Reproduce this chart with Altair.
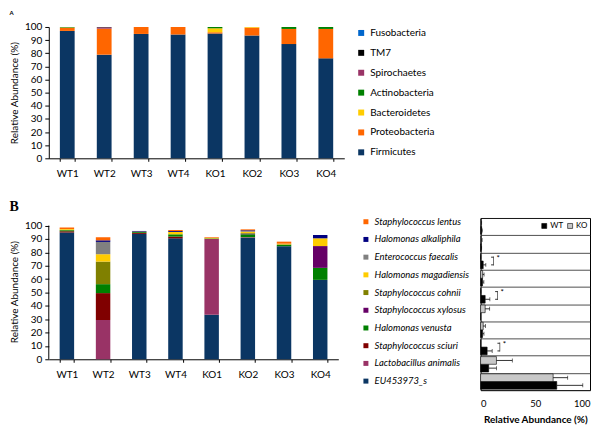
import altair as alt
import pandas as pd

FONT = "Lato"

samples = ["WT1", "WT2", "WT3", "WT4", "KO1", "KO2", "KO3", "KO4"]

# ---------- Panel A: phylum level (bottom -> top stacking order)
phyla = ["Firmicutes", "Proteobacteria", "Bacteroidetes", "Actinobacteria",
         "Spirochaetes", "TM7", "Fusobacteria"]
phylum_colors = ["#0B3663", "#FF6600", "#FFCC00", "#008000", "#993366", "#000000", "#0066CC"]
firmicutes     = [97.0, 78.9, 94.7, 94.2, 95.0, 93.5, 87.0, 76.1]
proteobacteria = [2.4, 19.8, 5.3, 5.8, 1.0, 6.0, 11.5, 22.4]
bacteroidetes  = [0.2, 0.0, 0.0, 0.0, 3.0, 0.5, 0.0, 0.0]
actinobacteria = [0.4, 0.0, 0.0, 0.0, 1.0, 0.0, 1.5, 1.5]
spirochaetes   = [0.0, 1.0, 0.0, 0.0, 0.0, 0.0, 0.0, 0.0]
tm7            = [0.0, 0.3, 0.0, 0.0, 0.0, 0.0, 0.0, 0.0]
fusobacteria   = [0.0, 0.0, 0.0, 0.0, 0.0, 0.0, 0.0, 0.0]
phylum_values = [firmicutes, proteobacteria, bacteroidetes, actinobacteria,
                 spirochaetes, tm7, fusobacteria]

# ---------- Panel B: species level (bottom -> top stacking order)
species = ["EU453973_s", "Lactobacillus animalis", "Staphylococcus sciuri",
           "Halomonas venusta", "Staphylococcus xylosus", "Staphylococcus cohnii",
           "Halomonas magadiensis", "Enterococcus faecalis", "Halomonas alkaliphila",
           "Staphylococcus lentus"]
species_colors = ["#0B3663", "#993366", "#800000", "#008000", "#660066",
                  "#808000", "#FFCC00", "#808080", "#000080", "#FF6600"]
eu453973    = [94.8, 0.0, 93.8, 90.5, 33.3, 90.8, 84.6, 59.4]
l_animalis  = [0.0, 29.4, 0.0, 0.0, 56.7, 0.5, 0.0, 0.0]
s_sciuri    = [1.0, 20.1, 0.8, 1.3, 0.0, 0.0, 0.0, 0.0]
h_venusta   = [0.7, 6.7, 0.6, 1.7, 0.4, 2.2, 1.0, 9.0]
s_xylosus   = [0.0, 0.0, 0.0, 0.0, 0.0, 0.5, 0.0, 16.3]
s_cohnii    = [0.5, 16.9, 0.0, 0.0, 0.0, 0.5, 0.4, 0.0]
h_magad     = [0.5, 5.5, 0.3, 1.8, 0.4, 1.0, 0.5, 5.8]
e_faecalis  = [0.0, 9.2, 0.0, 0.0, 0.0, 0.3, 0.0, 0.0]
h_alkal     = [0.0, 1.2, 0.5, 0.7, 0.0, 0.7, 0.0, 2.5]
s_lentus    = [1.0, 2.3, 0.0, 0.7, 0.5, 0.7, 1.5, 0.0]
species_values = [eu453973, l_animalis, s_sciuri, h_venusta, s_xylosus, s_cohnii,
                  h_magad, e_faecalis, h_alkal, s_lentus]

# ---------- Right panel: mean +/- error per species (species order as above)
wt_mean = [69.6, 7.4, 6.0, 1.8, 0.0, 4.2, 1.8, 2.4, 0.6, 1.0]
wt_err  = [23.8, 7.1, 4.6, 1.3, 0.0, 4.3, 1.2, 2.4, 0.4, 0.5]
ko_mean = [66.3, 14.5, 0.0, 2.4, 4.2, 0.2, 1.9, 0.1, 0.8, 0.7]
ko_err  = [13.3, 14.5, 0.0, 2.0, 4.1, 0.1, 1.3, 0.1, 0.6, 0.3]
significant = ["Enterococcus faecalis", "Staphylococcus cohnii", "Staphylococcus sciuri"]
groups = ["WT", "KO"]
group_colors = ["#000000", "#C8C8C8"]

# ---------- data frames
dfA = pd.DataFrame([
    {"sample": s, "phylum": p, "ord": i, "value": v}
    for i, (p, vals) in enumerate(zip(phyla, phylum_values))
    for s, v in zip(samples, vals)
])
dfB = pd.DataFrame([
    {"sample": s, "species": p, "ord": i, "value": v}
    for i, (p, vals) in enumerate(zip(species, species_values))
    for s, v in zip(samples, vals)
])
rows = []
for i, sp in enumerate(species):
    rows.append({"sp": sp, "group": "WT", "mean": wt_mean[i], "err": wt_err[i],
                 "hi": wt_mean[i] + wt_err[i]})
    rows.append({"sp": sp, "group": "KO", "mean": ko_mean[i], "err": ko_err[i],
                 "hi": ko_mean[i] + ko_err[i]})
dfR = pd.DataFrame(rows)
sig_rows = []
for sp in significant:
    bx = max(dfR[(dfR.sp == sp)]["hi"]) + 7
    for g in groups:
        sig_rows.append({"sp": sp, "group": g, "bx": bx, "bx0": bx - 2.2})
dfSig = pd.DataFrame(sig_rows)

yvals = list(range(0, 101, 10))

# ---------- Panel A
A = alt.Chart(dfA, title=alt.TitleParams("A", anchor="start", frame="bounds",
                                         fontSize=6, font=FONT, offset=6)).mark_bar().encode(
    x=alt.X("sample:N", sort=samples,
            scale=alt.Scale(paddingInner=0.6, paddingOuter=0.3),
            axis=alt.Axis(title=None, labelAngle=0, tickBand="extent", tickSize=3,
                          labelPadding=7, labelFontSize=10)),
    y=alt.Y("value:Q", stack="zero", scale=alt.Scale(domain=[0, 100]),
            axis=alt.Axis(values=yvals, title="Relative Abundance (%)", grid=False,
                          tickSize=4, labelPadding=3, titlePadding=5, labelOverlap=False,
                          labelFontSize=10, titleFontSize=10, titleFontWeight="normal")),
    color=alt.Color("phylum:N",
                    scale=alt.Scale(domain=phyla[::-1], range=phylum_colors[::-1]),
                    legend=alt.Legend(title=None, orient="none", legendX=309, legendY=1,
                                      symbolType="square", symbolSize=36,
                                      symbolStrokeWidth=0, labelFontSize=10,
                                      labelFont=FONT, rowPadding=10, padding=0,
                                      labelOffset=4)),
    order=alt.Order("ord:Q", sort="ascending"),
).properties(width=297, height=132)

# ---------- Panel B
B_yaxis = alt.Axis(values=yvals, title="Relative Abundance (%)", grid=False,
                   domain=False, tickSize=4, labelPadding=3, titlePadding=5,
                   labelOverlap=False, labelFontSize=10, titleFontSize=10,
                   titleFontWeight="normal", titleY=74)
B_yscale = alt.Scale(domain=[0, 105.7], nice=False)
B_bars = alt.Chart(dfB).mark_bar().encode(
    x=alt.X("sample:N", sort=samples,
            scale=alt.Scale(paddingInner=0.6, paddingOuter=0.3),
            axis=alt.Axis(title=None, labelAngle=0, tickBand="extent", tickSize=3,
                          labelPadding=7, labelFontSize=10)),
    y=alt.Y("value:Q", stack="zero", scale=B_yscale, axis=B_yaxis),
    color=alt.Color("species:N",
                    scale=alt.Scale(domain=species[::-1], range=species_colors[::-1]),
                    legend=alt.Legend(title=None, orient="none", legendX=314, legendY=-1,
                                      symbolType="square", symbolSize=25,
                                      symbolStrokeWidth=0, labelFontSize=9.5,
                                      labelFont=FONT, labelFontStyle="italic",
                                      rowPadding=6.8, padding=0, labelOffset=4,
                                      labelLimit=100)),
    order=alt.Order("ord:Q", sort="ascending"),
)
B_axis = alt.Chart(pd.DataFrame({"lo": [0], "hi": [100]})).mark_rule(
    color="black", strokeWidth=1).encode(
    x=alt.value(0), y=alt.Y("lo:Q", scale=B_yscale, axis=B_yaxis), y2="hi:Q")
B = alt.layer(B_bars, B_axis, title=alt.TitleParams(
    "B", anchor="start", frame="bounds", font="Liberation Serif", fontSize=14,
    fontWeight="bold", offset=3)).properties(width=291, height=142)

# ---------- Right panel
ysort = species[::-1]
ysc = alt.Y("sp:N", sort=ysort, scale=alt.Scale(paddingInner=0, paddingOuter=0),
            axis=alt.Axis(labels=False, ticks=False, domain=False, title=None, grid=True,
                          tickBand="extent", gridColor="#222222", gridWidth=0.8))
yoff = alt.YOffset("group:N", sort=["KO", "WT"],
                   scale=alt.Scale(paddingInner=0, paddingOuter=0.12))
xsc = alt.X("mean:Q", scale=alt.Scale(domain=[0, 100]),
            axis=alt.Axis(values=[0, 50, 100], grid=False, ticks=False, domain=False,
                          labelOverlap=False,
                          title="Relative Abundance (%)", titleFontWeight="bold",
                          titleFontSize=10, labelFontSize=9.5, labelPadding=8,
                          titlePadding=7))
R_bars = alt.Chart(dfR).mark_bar(stroke="black", strokeWidth=0.6).encode(
    y=ysc, yOffset=yoff, x=xsc,
    fill=alt.Fill("group:N", scale=alt.Scale(domain=groups, range=group_colors),
                  legend=alt.Legend(title=None, orient="none", legendX=60, legendY=4,
                                    direction="horizontal", symbolType="square",
                                    symbolSize=25, symbolStrokeColor="black",
                                    symbolStrokeWidth=0.6, labelFontSize=8,
                                    labelFont=FONT, padding=0, labelOffset=2,
                                    columnPadding=2)),
)
YO = alt.YOffset("group:N", sort=["KO", "WT"])
R_err = alt.Chart(dfR).transform_filter("datum.err > 0").mark_rule(
    color="black", strokeWidth=0.8).encode(
    y=alt.Y("sp:N", sort=ysort), yOffset=YO, x="mean:Q", x2="hi:Q")
R_cap = alt.Chart(dfR).transform_filter("datum.err > 0").mark_tick(
    color="black", thickness=0.8, size=4).encode(
    y=alt.Y("sp:N", sort=ysort), yOffset=YO, x="hi:Q")
# significance brackets: vertical stroke + two short arms, and an asterisk
R_br_v = alt.Chart(dfSig).transform_filter("datum.group == 'WT'").mark_tick(
    color="black", thickness=0.8, size=9).encode(
    y=alt.Y("sp:N", sort=ysort), x="bx:Q")
R_br_h = alt.Chart(dfSig).mark_rule(color="black", strokeWidth=0.8).encode(
    y=alt.Y("sp:N", sort=ysort), yOffset=YO, x="bx0:Q", x2="bx:Q")
R_star = alt.Chart(dfSig).transform_filter("datum.group == 'WT'").mark_text(
    text="*", fontSize=8, font=FONT, align="left", baseline="middle", dx=3, dy=-2,
    color="black").encode(y=alt.Y("sp:N", sort=ysort), x="bx:Q")
R = alt.layer(R_bars, R_err, R_cap, R_br_v, R_br_h, R_star).properties(
    width=110, height=173, view=alt.ViewBackground(stroke="black", strokeWidth=1))

bottom = alt.hconcat(B, R, spacing=10).resolve_scale(
    x="independent", y="independent", color="independent", fill="independent")

chart = alt.vconcat(A, bottom, spacing=22).resolve_scale(
    x="independent", y="independent", color="independent").properties(
    padding={"left": 1, "top": 1, "right": 1, "bottom": 1}
).configure_view(stroke=None).configure_axis(
    labelFont=FONT, titleFont=FONT, labelColor="black", titleColor="black",
    domainColor="black", tickColor="black"
).configure_title(color="black")

chart.save("out.html", embed_options={"renderer": "svg", "actions": False})
